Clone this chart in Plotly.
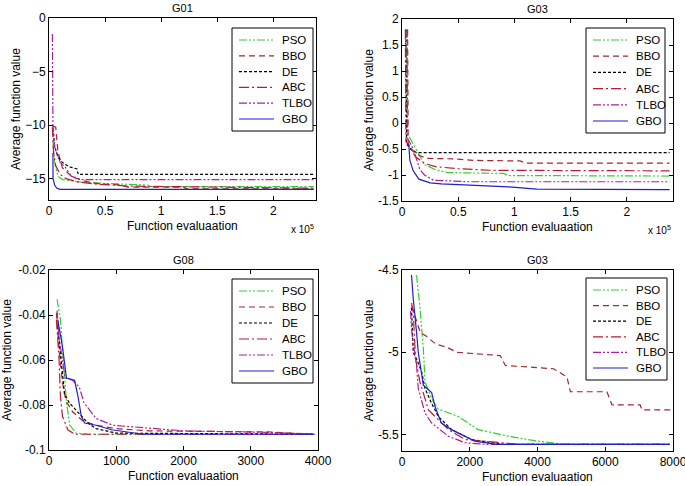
import plotly.graph_objects as go

W, H = 685, 486
FONT = "Liberation Sans, Arial, sans-serif"

algos = ["PSO", "BBO", "DE", "ABC", "TLBO", "GBO"]
colors = {"PSO": "#2fd12f", "BBO": "#a3262c", "DE": "#000000",
          "ABC": "#c01830", "TLBO": "#b0209a", "GBO": "#1f1fd0"}
dashes = {"PSO": "8px,2px,2px,2px,2px,2px", "BBO": "6px,4px", "DE": "3px,2px",
          "ABC": "10px,3px,2px,3px", "TLBO": "8px,2px,2px,2px,2px,2px", "GBO": "solid"}

# ---- G01 (top-left) ----
g01_PSO_x = [3500, 5000, 8000, 12000, 20000, 30000, 50000, 88000, 90000, 236000]
g01_PSO_y = [-11.5, -13.5, -14.8, -15.1, -15.2, -15.35, -15.45, -15.6, -15.75, -15.75]
g01_BBO_x = [3500, 6000, 8000, 12000, 20000, 30000, 45000, 65000, 70000, 120000, 122000, 236000]
g01_BBO_y = [-10.1, -10.2, -12.5, -14.0, -14.8, -15.2, -15.5, -15.6, -15.8, -15.8, -15.95, -15.95]
g01_DE_x = [3500, 5000, 8000, 12000, 18000, 25000, 26000, 236000]
g01_DE_y = [-10.3, -12.0, -13.0, -13.5, -13.9, -14.1, -14.6, -14.6]
g01_ABC_x = [3000, 4000, 6000, 10000, 15000, 25000, 40000, 70000, 236000]
g01_ABC_y = [-10.2, -12.5, -13.8, -14.6, -15.0, -15.3, -15.5, -15.7, -15.9]
g01_TLBO_x = [3000, 3500, 5000, 10000, 15000, 20000, 30000, 236000]
g01_TLBO_y = [-1.5, -10.0, -12.0, -13.5, -14.0, -14.8, -15.1, -15.1]
g01_GBO_x = [3500, 3600, 5000, 7000, 10000, 236000]
g01_GBO_y = [-12.6, -15.0, -15.6, -15.9, -16.0, -16.0]

# ---- G03 (top-right) ----
g03a_PSO_x = [4000, 4500, 6000, 10000, 15000, 20000, 30000, 40000, 60000, 90000, 95000, 238000]
g03a_PSO_y = [1.8, -0.2, -0.25, -0.4, -0.6, -0.8, -0.9, -0.95, -0.96, -0.97, -1.01, -1.02]
g03a_BBO_x = [5000, 5500, 10000, 15000, 22000, 45000, 65000, 105000, 110000, 238000]
g03a_BBO_y = [1.8, -0.45, -0.55, -0.62, -0.68, -0.69, -0.72, -0.73, -0.77, -0.77]
g03a_DE_x = [3500, 4000, 8000, 13000, 238000]
g03a_DE_y = [1.8, -0.4, -0.5, -0.57, -0.57]
g03a_ABC_x = [3000, 3500, 8000, 12000, 20000, 30000, 50000, 80000, 238000]
g03a_ABC_y = [1.8, -0.35, -0.5, -0.65, -0.78, -0.84, -0.88, -0.91, -0.92]
g03a_TLBO_x = [4500, 5000, 10000, 13000, 16000, 20000, 28000, 60000, 238000]
g03a_TLBO_y = [1.8, -0.3, -0.5, -0.7, -0.9, -1.0, -1.1, -1.13, -1.13]
g03a_GBO_x = [6000, 7000, 10000, 15000, 25000, 35000, 55000, 95000, 120000, 238000]
g03a_GBO_y = [-0.4, -0.72, -0.92, -1.08, -1.15, -1.17, -1.19, -1.23, -1.27, -1.28]

# ---- G08 (bottom-left) ----
g08_PSO_x = [120, 170, 200, 240, 260, 310, 400, 600, 3950]
g08_PSO_y = [-0.033, -0.042, -0.055, -0.07, -0.079, -0.089, -0.0925, -0.093, -0.093]
g08_BBO_x = [110, 150, 200, 250, 350, 500, 700, 1000, 1500, 3300, 3950]
g08_BBO_y = [-0.039, -0.055, -0.07, -0.078, -0.083, -0.087, -0.089, -0.0905, -0.0915, -0.092, -0.093]
g08_DE_x = [130, 180, 230, 300, 430, 580, 700, 1000, 3950]
g08_DE_y = [-0.045, -0.06, -0.075, -0.079, -0.083, -0.088, -0.0905, -0.0925, -0.093]
g08_ABC_x = [110, 150, 170, 200, 280, 380, 3950]
g08_ABC_y = [-0.042, -0.06, -0.076, -0.085, -0.091, -0.093, -0.093]
g08_TLBO_x = [120, 150, 200, 240, 350, 450, 520, 700, 950, 1400, 2000, 3300, 3950]
g08_TLBO_y = [-0.038, -0.05, -0.06, -0.068, -0.069, -0.072, -0.079, -0.086, -0.089, -0.090, -0.0915, -0.0922, -0.093]
g08_GBO_x = [130, 200, 260, 380, 430, 480, 530, 700, 930, 1400, 3950]
g08_GBO_y = [-0.042, -0.054, -0.068, -0.069, -0.076, -0.085, -0.088, -0.089, -0.091, -0.093, -0.093]

# ---- G03 (bottom-right) ----
g03b_PSO_x = [430, 530, 630, 680, 870, 1070, 1660, 2250, 3140, 4000, 4800, 7900]
g03b_PSO_y = [-4.53, -4.73, -4.98, -5.18, -5.28, -5.345, -5.39, -5.47, -5.51, -5.54, -5.56, -5.56]
g03b_BBO_x = [290, 540, 700, 1000, 1330, 1620, 2900, 3050, 4470, 4870, 4970, 6050, 6200, 7030, 7080, 7920]
g03b_BBO_y = [-4.72, -4.88, -4.9, -4.95, -4.97, -5.0, -5.02, -5.08, -5.1, -5.15, -5.24, -5.24, -5.32, -5.32, -5.35, -5.35]
g03b_DE_x = [280, 330, 450, 580, 680, 850, 1070, 1465, 2050, 3000, 7900]
g03b_DE_y = [-4.73, -5.0, -5.05, -5.12, -5.22, -5.3, -5.39, -5.47, -5.53, -5.56, -5.56]
g03b_ABC_x = [280, 330, 400, 530, 780, 1370, 1860, 2840, 3500, 7900]
g03b_ABC_y = [-4.7, -4.75, -5.04, -5.18, -5.35, -5.47, -5.53, -5.55, -5.56, -5.56]
g03b_TLBO_x = [250, 290, 430, 480, 680, 875, 1370, 1860, 2500, 7900]
g03b_TLBO_y = [-4.75, -4.88, -5.08, -5.22, -5.37, -5.43, -5.51, -5.55, -5.56, -5.56]
g03b_GBO_x = [280, 330, 430, 480, 630, 875, 975, 1160, 1455, 1860, 2150, 2800, 7900]
g03b_GBO_y = [-4.53, -4.67, -4.88, -5.0, -5.2, -5.245, -5.33, -5.43, -5.47, -5.51, -5.54, -5.56, -5.56]

titles = ["G01", "G03", "G08", "G03"]
x_title = "Function evaluaation"
y_title = "Average function value"

x_ticks_top = [0, 50000, 100000, 150000, 200000]
x_ticklabels_top = ["0", "0.5", "1", "1.5", "2"]

data = {
    1: {a: (globals()[f"g01_{a}_x"], globals()[f"g01_{a}_y"]) for a in algos},
    2: {a: (globals()[f"g03a_{a}_x"], globals()[f"g03a_{a}_y"]) for a in algos},
    3: {a: (globals()[f"g08_{a}_x"], globals()[f"g08_{a}_y"]) for a in algos},
    4: {a: (globals()[f"g03b_{a}_x"], globals()[f"g03b_{a}_y"]) for a in algos},
}

# window-pixel boxes (left, right, top, bottom)
boxes = {1: (49, 316, 18, 200), 2: (402, 673, 19, 201),
         3: (49, 318, 270, 450), 4: (402, 673, 270, 451)}
# legend boxes (left, right, top, bottom)
legend_boxes = {1: (232, 313, 28, 131), 2: (586, 665, 28, 133),
                3: (232, 313, 279, 383), 4: (586, 667, 278, 380)}


def fx(px):
    return px / W


def fy(py):
    return 1 - py / H


fig = go.Figure()
for k in range(1, 5):
    sfx = "" if k == 1 else str(k)
    for a in algos:
        xs, ys = data[k][a]
        fig.add_trace(go.Scatter(
            x=xs, y=ys, mode="lines", name=a,
            line=dict(color=colors[a], width=1.2, dash=dashes[a]),
            xaxis="x" + sfx, yaxis="y" + sfx, showlegend=False))

axis_common = dict(showline=True, linecolor="black", linewidth=1, mirror="ticks",
                   ticks="inside", ticklen=4, tickcolor="black", showgrid=False,
                   zeroline=False, tickfont=dict(family=FONT, size=12, color="black"),
                   automargin=False, ticklabeloverflow="allow")

xcfg = {1: dict(range=[0, 238000], tickvals=x_ticks_top, ticktext=x_ticklabels_top),
        2: dict(range=[0, 241000], tickvals=x_ticks_top, ticktext=x_ticklabels_top),
        3: dict(range=[0, 4000], tickvals=[0, 1000, 2000, 3000, 4000]),
        4: dict(range=[0, 8000], tickvals=[0, 2000, 4000, 6000, 8000])}
ycfg = {1: dict(range=[-17, 0], tickvals=[0, -5, -10, -15]),
        2: dict(range=[-1.5, 2], tickvals=[2, 1.5, 1, 0.5, 0, -0.5, -1, -1.5],
                ticktext=["2", "1.5", "1", "0.5", "0", "-0.5", "-1", "-1.5"]),
        3: dict(range=[-0.1, -0.02], tickvals=[-0.02, -0.04, -0.06, -0.08, -0.1],
                ticktext=["-0.02", "-0.04", "-0.06", "-0.08", "-0.1"]),
        4: dict(range=[-5.6, -4.5], tickvals=[-4.5, -5, -5.5],
                ticktext=["-4.5", "-5", "-5.5"])}

layout = dict(width=W, height=H, margin=dict(l=0, r=0, t=0, b=0),
              plot_bgcolor="white", paper_bgcolor="white", showlegend=False,
              font=dict(family=FONT, size=11, color="black"))
annotations = []
shapes = []
for k in range(1, 5):
    sfx = "" if k == 1 else str(k)
    l, r, t, b = boxes[k]
    layout["xaxis" + sfx] = dict(axis_common, domain=[fx(l), fx(r)],
                                 anchor="y" + sfx, **xcfg[k])
    layout["yaxis" + sfx] = dict(axis_common, domain=[fy(b), fy(t)],
                                 anchor="x" + sfx, **ycfg[k])
    cx = (l + r) / 2
    annotations.append(dict(text=titles[k - 1], x=fx(cx), y=fy(t - 10),
                            xref="paper", yref="paper", showarrow=False,
                            font=dict(family=FONT, size=11), xanchor="center", yanchor="middle"))
    annotations.append(dict(text=x_title, x=fx(cx), y=fy(b + 26),
                            xref="paper", yref="paper", showarrow=False,
                            font=dict(family=FONT, size=12), xanchor="center", yanchor="middle"))
    ytx = {1: 16, 2: 369, 3: 7, 4: 368}[k]
    annotations.append(dict(text=y_title, x=fx(ytx), y=fy((t + b) / 2),
                            xref="paper", yref="paper", showarrow=False, textangle=-90,
                            font=dict(family=FONT, size=12), xanchor="center", yanchor="middle"))
    if k in (1, 2):
        annotations.append(dict(text="x 10<sup>5</sup>", x=fx(r - 14), y=fy(b + 29),
                                xref="paper", yref="paper", showarrow=False,
                                font=dict(family=FONT, size=10), xanchor="center", yanchor="middle"))
    # legend (box, sample lines, labels)
    ll, lr, lt, lb = legend_boxes[k]
    shapes.append(dict(type="rect", xref="paper", yref="paper", layer="above",
                       x0=fx(ll), x1=fx(lr), y0=fy(lb), y1=fy(lt),
                       fillcolor="white", line=dict(color="black", width=1)))
    step = (lb - lt - 24) / 5
    for i, a in enumerate(algos):
        ry = lt + 12 + i * step
        shapes.append(dict(type="line", xref="paper", yref="paper", layer="above",
                           x0=fx(ll + 7), x1=fx(ll + 42), y0=fy(ry), y1=fy(ry),
                           line=dict(color=colors[a], width=1.2, dash=dashes[a])))
        annotations.append(dict(text=a, x=fx(ll + 48), y=fy(ry), xref="paper", yref="paper",
                                showarrow=False, xanchor="left", yanchor="middle",
                                font=dict(family=FONT, size=11.5, color="black")))
layout["annotations"] = annotations
layout["shapes"] = shapes
fig.update_layout(**layout)
fig.write_html("out.html", config={"displayModeBar": False},
               post_script="document.body.style.margin='0';")
